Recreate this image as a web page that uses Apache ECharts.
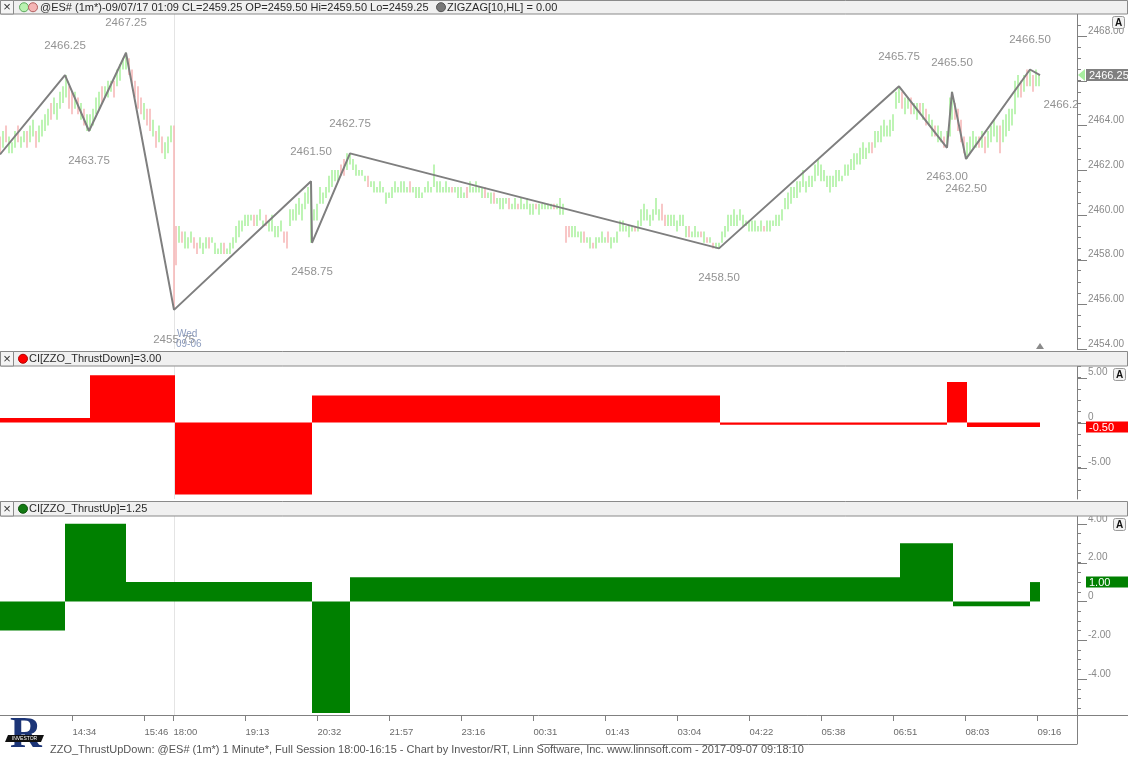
<!DOCTYPE html>
<html><head><meta charset="utf-8">
<script src="https://cdn.jsdelivr.net/npm/echarts@6.0.0/dist/echarts.min.js"></script>
<style>html,body{margin:0;padding:0;background:#fff}#c{width:1128px;height:757px}</style>
</head><body><div id="c"></div>
<script>
// ---------- DATA ----------
const tickPos = [72.5, 144.5, 173.5, 245.5, 317.5, 389.5, 461.5, 533.5, 605.5, 677.5, 749.5, 821.5, 893.5, 965.5, 1037.5];
const tickLabels = ['14:34','15:46','18:00','19:13','20:32','21:57','23:16','00:31','01:43','03:04','04:22','05:38','06:51','08:03','09:16'];

const priceMajor = [2454, 2456, 2458, 2460, 2462, 2464, 2466, 2468];
const downMajor = [-5, 0, 5];
const upMajor = [-4, -2, 0, 2, 4];

// zigzag pivots: bar position, price, label placement
const zzX = [0, 65, 89, 126, 174, 311, 312, 350, 719, 899, 947, 952, 966, 1030, 1040];
const zzP = [2462.70, 2466.25, 2463.75, 2467.25, 2455.75, 2461.50, 2458.75, 2462.75, 2458.50, 2465.75, 2463.00, 2465.50, 2462.50, 2466.50, 2466.25];
const zzPos = ['none','top','bottom','top','bottom','top','bottom','top','bottom','top','bottom','top','bottom','top','last'];

// 1-minute bars (sampled): [position, low, high, up]
const bars = [
[0,2462.75,2463.50,0],[3,2463.00,2463.75,1],[6,2463.25,2464.00,0],[9,2462.75,2463.50,1],[12,2462.75,2463.25,1],[15,2463.00,2463.75,1],[18,2463.25,2464.00,0],[21,2463.00,2463.50,1],[24,2463.25,2463.75,1],[27,2463.00,2463.75,0],
[30,2463.25,2464.00,1],[33,2463.50,2464.25,1],[36,2463.00,2463.75,0],[39,2463.25,2464.00,1],[42,2463.50,2464.25,1],
[45,2463.75,2464.50,1],[48,2464.00,2464.75,1],[51,2464.25,2465.00,0],[54,2464.50,2465.25,1],
[57,2464.25,2465.00,1],[60,2464.75,2465.50,1],[63,2465.00,2465.75,1],
[66,2465.25,2466.25,1],[69,2464.75,2465.75,0],[72,2464.50,2465.50,0],
[75,2464.75,2465.50,1],[78,2464.50,2465.25,0],[81,2464.25,2465.00,1],[84,2464.00,2464.75,0],[87,2463.75,2464.50,1],
[90,2463.75,2464.50,1],[93,2464.00,2464.75,1],
[96,2464.50,2465.25,1],[99,2464.75,2465.50,1],[102,2465.00,2465.75,0],
[105,2465.25,2465.75,1],[108,2465.25,2466.00,1],[111,2465.50,2466.00,1],[114,2465.25,2466.00,0],
[117,2465.75,2466.50,1],[120,2466.00,2466.75,1],[123,2466.50,2467.00,1],
[126,2466.50,2467.25,1],[129,2466.25,2467.00,0],
[132,2465.75,2466.50,0],[135,2465.25,2466.00,0],[138,2464.75,2465.75,0],
[141,2464.50,2465.25,0],[144,2464.25,2465.00,1],[147,2464.00,2464.75,0],
[150,2463.75,2464.75,0],[153,2463.50,2464.25,1],[156,2463.00,2463.75,0],[159,2463.25,2464.00,1],
[162,2462.75,2463.50,0],[165,2462.50,2463.25,1],[168,2462.75,2463.50,1],[171,2463.25,2464.00,1],
[174,2455.75,2464.00,0],
[176,2457.75,2459.50,0],[179,2458.75,2459.50,1],[182,2458.75,2459.25,0],[185,2458.50,2459.25,1],
[188,2458.50,2459.00,1],[191,2458.75,2459.25,1],[194,2458.50,2459.00,0],
[197,2458.25,2458.75,0],[200,2458.50,2459.00,1],[203,2458.25,2458.75,1],[206,2458.50,2459.00,1],[209,2458.50,2459.00,0],[212,2458.75,2459.00,1],
[215,2458.25,2458.75,1],[218,2458.25,2458.50,1],[221,2458.25,2458.75,1],[224,2458.25,2458.75,0],[227,2458.25,2458.50,1],[230,2458.25,2458.75,1],[233,2458.50,2459.00,1],
[236,2458.75,2459.50,1],[239,2459.00,2459.75,1],[242,2459.25,2459.75,1],
[245,2459.50,2460.00,1],[248,2459.50,2460.00,1],[251,2459.75,2460.00,1],[254,2459.50,2460.00,0],
[257,2459.50,2460.00,1],[260,2459.75,2460.25,1],[263,2459.50,2459.75,1],[266,2459.50,2460.00,0],
[269,2459.25,2459.75,1],[272,2459.25,2460.00,1],
[275,2459.00,2459.50,1],[278,2459.00,2459.50,1],[281,2459.25,2459.75,1],[284,2458.75,2459.25,0],[287,2458.50,2459.25,0],
[290,2459.50,2460.25,1],[293,2459.75,2460.25,1],
[296,2459.75,2460.50,1],[299,2460.00,2460.75,1],[302,2459.75,2460.50,1],
[305,2460.25,2461.00,1],[308,2460.50,2461.25,1],[311,2458.75,2461.50,1],
[314,2459.75,2460.25,1],[317,2459.75,2460.50,1],
[320,2460.50,2461.25,1],[323,2460.50,2461.00,1],[326,2460.75,2461.25,1],
[329,2461.00,2461.75,1],[332,2461.25,2462.00,1],
[335,2461.50,2462.00,1],[338,2461.50,2462.00,1],[341,2461.75,2462.25,0],
[344,2461.75,2462.50,0],[347,2462.00,2462.75,1],[350,2462.25,2462.75,1],[353,2462.00,2462.50,1],[356,2461.75,2462.25,1],
[359,2461.75,2462.00,1],[362,2461.75,2462.00,1],
[365,2461.50,2461.75,1],[368,2461.25,2461.75,0],[371,2461.25,2461.50,1],
[374,2461.00,2461.50,1],[377,2461.00,2461.25,1],[380,2461.00,2461.50,1],[383,2461.00,2461.25,1],
[386,2460.50,2461.00,1],[389,2460.75,2461.00,1],[392,2460.75,2461.25,1],
[395,2461.00,2461.50,1],[398,2461.00,2461.25,1],[401,2461.00,2461.50,1],[404,2461.00,2461.50,1],[407,2461.00,2461.25,1],[410,2461.00,2461.50,0],[413,2461.00,2461.25,1],
[416,2460.75,2461.25,1],[419,2460.75,2461.25,1],[422,2460.75,2461.00,1],
[425,2461.00,2461.25,1],[428,2461.00,2461.50,1],[431,2461.00,2461.25,1],
[434,2461.25,2462.25,1],[437,2461.00,2461.50,1],
[440,2461.00,2461.50,1],[443,2461.00,2461.25,1],[446,2461.00,2461.50,1],[449,2461.00,2461.25,1],[452,2461.00,2461.25,0],[455,2461.00,2461.25,1],[458,2460.75,2461.25,1],[461,2460.75,2461.25,1],[464,2460.75,2461.00,1],[467,2460.75,2461.25,0],
[470,2461.00,2461.50,1],[473,2461.00,2461.25,1],[476,2461.00,2461.50,1],[479,2461.00,2461.25,1],
[482,2460.75,2461.25,1],[485,2460.75,2461.25,0],[488,2460.75,2461.00,1],
[491,2460.50,2461.00,1],[494,2460.50,2461.00,0],[497,2460.50,2460.75,1],
[500,2460.25,2460.75,1],[503,2460.25,2460.75,1],[506,2460.50,2460.75,1],[509,2460.25,2460.75,0],[512,2460.25,2460.50,1],[515,2460.25,2460.75,1],[518,2460.25,2460.50,0],[521,2460.25,2460.75,1],[524,2460.25,2460.50,1],[527,2460.25,2460.75,1],
[530,2460.00,2460.50,1],[533,2460.00,2460.50,1],[536,2460.25,2460.50,0],[539,2460.00,2460.50,1],[542,2460.25,2460.50,1],[545,2460.25,2460.50,1],[548,2460.25,2460.50,1],[551,2460.25,2460.50,1],[554,2460.25,2460.50,0],[557,2460.25,2460.50,1],
[560,2460.00,2460.75,1],[563,2460.00,2460.50,1],[566,2458.75,2459.50,0],[569,2459.00,2459.50,0],
[572,2459.00,2459.50,1],[575,2459.00,2459.50,1],[578,2459.00,2459.25,1],
[581,2458.75,2459.25,1],[584,2458.75,2459.25,0],[587,2458.75,2459.00,1],[590,2458.50,2459.00,1],[593,2458.50,2458.75,0],[596,2458.50,2459.00,1],[599,2458.75,2459.00,1],[602,2458.75,2459.25,1],[605,2458.75,2459.00,1],[608,2458.75,2459.25,0],[611,2458.50,2459.00,1],[614,2458.75,2459.00,1],[617,2458.75,2459.25,1],
[620,2459.25,2459.75,1],[623,2459.25,2459.75,1],[626,2459.25,2459.50,1],[629,2459.00,2459.50,1],[632,2459.25,2459.50,1],[635,2459.25,2459.50,0],[638,2459.25,2459.75,1],
[641,2459.50,2460.25,1],[644,2459.75,2460.50,1],[647,2459.75,2460.25,1],[650,2459.50,2460.00,1],[653,2459.75,2460.25,1],[656,2460.00,2460.75,1],[659,2459.75,2460.25,1],[662,2459.75,2460.50,0],[665,2459.50,2460.00,0],
[668,2459.50,2460.00,1],[671,2459.50,2460.00,1],[674,2459.50,2460.00,1],[677,2459.25,2459.75,1],[680,2459.50,2460.00,1],[683,2459.50,2460.00,1],
[686,2459.00,2459.50,1],[689,2459.00,2459.50,0],[692,2459.00,2459.25,1],[695,2459.00,2459.50,1],[698,2459.00,2459.25,1],[701,2459.00,2459.25,0],[704,2458.75,2459.25,1],[707,2458.75,2459.00,0],[710,2458.75,2459.00,1],[713,2458.50,2458.75,0],[716,2458.50,2458.75,1],[719,2458.50,2458.75,1],
[722,2458.75,2459.25,1],[725,2459.00,2459.50,1],[728,2459.25,2460.00,1],[731,2459.50,2460.00,1],[734,2459.50,2460.25,1],
[737,2459.50,2460.00,1],[740,2459.75,2460.25,1],[743,2459.50,2460.00,1],[746,2459.50,2459.75,1],[749,2459.25,2459.75,1],[752,2459.25,2459.75,1],[755,2459.25,2459.75,1],[758,2459.25,2459.50,1],[761,2459.25,2459.75,1],[764,2459.25,2459.50,0],[767,2459.25,2459.75,1],[770,2459.25,2459.75,1],[773,2459.50,2459.75,1],[776,2459.50,2460.00,1],[779,2459.50,2460.00,1],[782,2459.75,2460.25,1],
[785,2460.25,2460.75,1],[788,2460.25,2461.00,1],[791,2460.50,2461.25,1],[794,2460.75,2461.25,1],[797,2460.75,2461.50,1],
[800,2461.00,2461.50,1],[803,2461.25,2462.00,1],[806,2461.00,2461.50,1],[809,2461.25,2461.75,1],[812,2461.25,2461.75,1],
[815,2461.50,2462.25,1],[818,2461.75,2462.50,1],[821,2461.50,2462.25,1],[824,2461.50,2462.00,1],[827,2461.25,2461.75,1],[830,2461.00,2461.75,1],[833,2461.25,2461.75,1],[836,2461.25,2462.00,1],[839,2461.50,2462.00,1],[842,2461.50,2461.75,1],
[845,2461.75,2462.25,1],[848,2461.75,2462.25,1],[851,2462.00,2462.50,1],[854,2462.00,2462.75,1],[857,2462.25,2462.75,1],
[860,2462.25,2463.00,1],[863,2462.50,2463.25,1],[866,2462.50,2463.00,1],[869,2462.75,2463.25,1],[872,2462.75,2463.25,0],
[875,2463.00,2463.75,1],[878,2463.25,2463.75,1],[881,2463.25,2464.00,1],[884,2463.50,2464.25,1],[887,2463.50,2464.00,1],[890,2463.50,2464.25,1],[893,2463.75,2464.50,1],
[896,2464.75,2465.50,1],[899,2465.00,2465.75,1],
[902,2464.75,2465.50,0],[905,2464.50,2465.25,1],[908,2464.75,2465.25,1],[911,2464.50,2465.25,0],[914,2464.50,2465.00,1],[917,2464.25,2465.00,1],[920,2464.50,2465.00,0],[923,2464.25,2465.00,1],[926,2464.00,2464.75,0],[929,2464.00,2464.50,1],
[932,2463.50,2464.25,1],[935,2463.50,2464.00,0],[938,2463.25,2464.00,1],[941,2463.25,2463.75,1],[944,2463.00,2463.50,0],[947,2463.00,2463.75,1],[950,2463.50,2465.25,1],[952,2464.25,2465.50,1],
[955,2464.25,2465.00,0],[958,2463.75,2464.75,0],[961,2463.25,2464.25,0],[964,2462.75,2463.50,0],
[967,2462.50,2463.25,1],
[970,2462.75,2463.50,1],[973,2463.00,2463.75,1],[976,2463.00,2463.50,1],[979,2463.00,2463.50,0],[982,2463.00,2463.75,1],[985,2462.75,2463.50,0],[988,2463.00,2463.75,1],[991,2463.25,2464.00,1],[994,2463.50,2464.25,1],[997,2463.25,2464.00,1],
[1000,2462.75,2464.00,0],[1003,2463.25,2464.25,1],[1006,2463.50,2464.50,1],[1009,2463.75,2464.75,1],[1012,2464.00,2464.75,1],
[1015,2464.50,2466.00,1],[1018,2465.25,2466.25,1],[1021,2465.25,2466.00,0],[1024,2465.50,2466.25,1],[1027,2465.75,2466.50,0],[1030,2465.75,2466.50,1],[1033,2465.50,2466.25,0],[1036,2465.75,2466.50,1],[1039,2465.75,2466.25,1]
];

// ZZO_ThrustDown steps: [from, to, value]
const downSeg = [[0,90,0.5],[90,175,5.25],[175,312,-8.0],[312,720,3.0],[720,947,-0.25],[947,967,4.5],[967,1040,-0.5]];
// ZZO_ThrustUp steps: [from, to, value]
const upSeg = [[0,65,-1.5],[65,126,4.0],[126,312,1.0],[312,350,-5.75],[350,900,1.25],[900,953,3.0],[953,1030,-0.25],[1030,1040,1.0]];

const sessionBreakX = 174;
const lastPrice = 2466.25;

// ---------- CHART ----------
const FONT = 'Liberation Sans, Arial, sans-serif';
const chart = echarts.init(document.getElementById('c'), null, {renderer:'canvas'});

function steps(a, b, s){ const r=[]; for(let v=a; v<=b+1e-9; v+=s) r.push(+v.toFixed(4)); return r; }

const grids = [
  {left:0, top:13.6, width:1077, height:335.4},
  {left:0, top:366.25, width:1077, height:132.75},
  {left:0, top:516.1, width:1077, height:198.9}
].map(g => Object.assign(g, {containLabel:false, outerBoundsMode:'none'}));

function xAx(i, show){
  return {
    type:'value', gridIndex:i, min:0, max:1077, position:'bottom',
    axisLine:{show:show, onZero:false, lineStyle:{color:'#808080'}},
    axisTick:{show:show, customValues:tickPos, length:6, lineStyle:{color:'#808080'}},
    axisLabel:{show:show, customValues:tickPos, align:'left', margin:12, fontSize:9.5, fontFamily:FONT, color:'#6a6a6a',
      formatter: v => { const k = tickPos.indexOf(v); return k>=0 ? tickLabels[k] : ''; }},
    splitLine:{show:false}
  };
}
function yAx(i, min, max, minor, major, fmt){
  return {
    type:'value', gridIndex:i, min:min, max:max, position:'right',
    axisLine:{show:true, onZero:false, lineStyle:{color:'#808080'}},
    axisTick:{show:true, customValues:minor, length:4, lineStyle:{color:'#808080'}},
    axisLabel:{show:true, customValues:major, align:'left', verticalAlign:'bottom', margin:11, fontSize:10, fontFamily:FONT, color:'#8a8a8a', formatter:fmt},
    splitLine:{show:false}
  };
}
const fmt2 = v => v===0 ? '0' : v.toFixed(2);

function renderBar(params, api){
  const x=api.value(0), lo=api.value(1), hi=api.value(2), up=api.value(3);
  const a=api.coord([x,hi]), b=api.coord([x,lo]);
  return {type:'rect', shape:{x:a[0]-0.8, y:a[1], width:1.6, height:Math.max(1.5,b[1]-a[1])},
    style:{fill: up ? '#aef2a2' : '#f7b9b9'}};
}
function stepRender(color){
  return function(params, api){
    const x0=api.value(0), x1=api.value(1), v=api.value(2);
    const a=api.coord([x0,v]), b=api.coord([x1,0]);
    return {type:'rect', shape:{x:a[0], y:Math.min(a[1],b[1]), width:b[0]-a[0], height:Math.max(1,Math.abs(b[1]-a[1]))}, style:{fill:color}};
  };
}
function breakRender(params, api){
  const x = api.coord([api.value(0), 0])[0];
  const cs = params.coordSys;
  return {type:'line', shape:{x1:Math.round(x)+0.5, y1:cs.y, x2:Math.round(x)+0.5, y2:cs.y+cs.height}, style:{stroke:'#e4e4e4', lineWidth:1}};
}
// long (major) ticks on the right-hand value axis
function majorTickRender(params, api){
  const y = Math.round(api.coord([0, api.value(1)])[1]) + 0.5;
  const cs = params.coordSys;
  const x0 = cs.x + cs.width;
  return {type:'line', shape:{x1:x0, y1:y, x2:x0+10, y2:y}, style:{stroke:'#808080', lineWidth:1}};
}

const zzLine = zzX.map((x,i)=>[x, zzP[i]]);
const zzLabels = zzX.map((x,i)=>{
  const pos = zzPos[i];
  if (pos==='none') return null;
  const lab = {show:true, formatter: zzP[i].toFixed(2), color:'#777', fontSize:11.5, fontFamily:FONT};
  if (pos==='top') Object.assign(lab, {position:'top', distance:23});
  else if (pos==='bottom') Object.assign(lab, {position:'bottom', distance:23});
  else Object.assign(lab, {position:'bottom', distance:23, offset:[21,0], width:38, overflow:'truncate', ellipsis:'', align:'center'});
  return {value:[x, zzP[i]], label:lab};
}).filter(Boolean);

const option = {
  animation:false,
  backgroundColor:'#ffffff',
  grid: grids,
  xAxis: [xAx(0,false), xAx(1,false), xAx(2,true)],
  yAxis: [
    yAx(0, 2454, 2469, steps(2454, 2468.5, 0.5), priceMajor, v=>v.toFixed(2)),
    yAx(1, -8.5, 6.25, steps(-7.5, 6.25, 1.25), downMajor, fmt2),
    yAx(2, -5.85, 4.4, steps(-5.5, 4.0, 0.5), upMajor, fmt2)
  ],
  series: [
    {type:'custom', xAxisIndex:0, yAxisIndex:0, data:[[sessionBreakX]], renderItem:breakRender, silent:true, z:1},
    {type:'custom', xAxisIndex:1, yAxisIndex:1, data:[[sessionBreakX]], renderItem:breakRender, silent:true, z:1},
    {type:'custom', xAxisIndex:2, yAxisIndex:2, data:[[sessionBreakX]], renderItem:breakRender, silent:true, z:1},
    {type:'custom', xAxisIndex:0, yAxisIndex:0, data:priceMajor.map(v=>[0,v]), renderItem:majorTickRender, clip:false, silent:true, z:5},
    {type:'custom', xAxisIndex:1, yAxisIndex:1, data:downMajor.map(v=>[0,v]), renderItem:majorTickRender, clip:false, silent:true, z:5},
    {type:'custom', xAxisIndex:2, yAxisIndex:2, data:upMajor.map(v=>[0,v]), renderItem:majorTickRender, clip:false, silent:true, z:5},
    {type:'custom', name:'bars', xAxisIndex:0, yAxisIndex:0, data:bars, renderItem:renderBar, clip:true, encode:{x:0, y:[1,2]}, z:2},
    {type:'line', name:'ZIGZAG', xAxisIndex:0, yAxisIndex:0, data:zzLine, symbol:'none', lineStyle:{color:'#7f7f7f', width:2}, z:3, clip:true},
    {type:'scatter', xAxisIndex:0, yAxisIndex:0, data:zzLabels, symbolSize:1, itemStyle:{color:'rgba(0,0,0,0)'}, z:4, silent:true},
    {type:'custom', name:'ThrustDown', xAxisIndex:1, yAxisIndex:1, data:downSeg, renderItem:stepRender('#ff0000'), encode:{x:[0,1], y:2}, z:2},
    {type:'custom', name:'ThrustUp', xAxisIndex:2, yAxisIndex:2, data:upSeg, renderItem:stepRender('#008000'), encode:{x:[0,1], y:2}, z:2}
  ]
};
chart.setOption(option);

// ---------- decorations ----------
function header(y0, h, circles, texts){
  const els = [
    {type:'rect', shape:{x:0.5, y:y0+0.5, width:1127, height:h}, style:{fill:'#f0f0f0', stroke:'#8a8a8a', lineWidth:1}, z:10},
    {type:'rect', shape:{x:0.5, y:y0+0.5, width:13, height:h}, style:{fill:'#f4f4f4', stroke:'#8a8a8a', lineWidth:1}, z:11},
    {type:'text', x:7, y:y0+h/2+1, style:{text:'×', fill:'#333', fontSize:13, fontFamily:FONT, align:'center', verticalAlign:'middle'}, z:12}
  ];
  circles.forEach(c => els.push({type:'circle', shape:{cx:c.x, cy:y0+h/2+0.5, r:4.5}, style:{fill:c.fill, stroke:c.stroke, lineWidth:1}, z:12}));
  texts.forEach(t => els.push({type:'text', x:t.x, y:y0+h/2+1, style:{text:t.text, fill:'#2a2a2a', fontSize:11, fontFamily:FONT, verticalAlign:'middle'}, z:12}));
  return els;
}
function aButton(x, y){
  return [
    {type:'rect', shape:{x:x+0.5, y:y+0.5, width:12, height:12, r:2}, style:{fill:'#f2f2f2', stroke:'#9a9a9a', lineWidth:1}, z:12},
    {type:'text', x:x+6.5, y:y+7, style:{text:'A', fill:'#111', fontSize:10, fontWeight:'bold', fontFamily:FONT, align:'center', verticalAlign:'middle'}, z:13}
  ];
}
function tag(y, text, fill, h){
  return [
    {type:'rect', shape:{x:1086, y:y-h/2, width:42, height:h}, style:{fill:fill}, z:12},
    {type:'text', x:1089, y:y+0.5, style:{text:text, fill:'#fff', fontSize:11, fontFamily:FONT, verticalAlign:'middle'}, z:13}
  ];
}

const yPrice = chart.convertToPixel({yAxisIndex:0}, lastPrice);
const yDown = chart.convertToPixel({yAxisIndex:1}, downSeg[downSeg.length-1][2]);
const yUp = chart.convertToPixel({yAxisIndex:2}, upSeg[upSeg.length-1][2]);
const xLast = chart.convertToPixel({xAxisIndex:0}, zzX[zzX.length-1]);

const els = [].concat(
  header(0, 13.5, [{x:24, fill:'#b9f2b0', stroke:'#5fa85f'}, {x:33, fill:'#f5b5b5', stroke:'#b06060'}],
    [{x:40, text:'@ES# (1m*)-09/07/17 01:09 CL=2459.25 OP=2459.50 Hi=2459.50 Lo=2459.25'}]),
  header(351, 14.5, [{x:23, fill:'#ff0000', stroke:'#b00000'}], [{x:29, text:'CI[ZZO_ThrustDown]=3.00'}]),
  header(501, 14.5, [{x:23, fill:'#127a12', stroke:'#0a500a'}], [{x:29, text:'CI[ZZO_ThrustUp]=1.25'}]),
  [
    {type:'circle', shape:{cx:441, cy:7.2, r:4.5}, style:{fill:'#777', stroke:'#555'}, z:12},
    {type:'text', x:447, y:7.8, style:{text:'ZIGZAG[10,HL] = 0.00', fill:'#2a2a2a', fontSize:11, fontFamily:FONT, verticalAlign:'middle'}, z:12}
  ],
  aButton(1112, 16), aButton(1113, 368), aButton(1113, 518),
  tag(yPrice, lastPrice.toFixed(2), '#808080', 12),
  tag(yDown, downSeg[downSeg.length-1][2].toFixed(2), '#ff0000', 11),
  tag(yUp, upSeg[upSeg.length-1][2].toFixed(2), '#008000', 11),
  [
    {type:'polygon', shape:{points:[[1078,yPrice],[1085,yPrice-6],[1085,yPrice+6]]}, style:{fill:'#a8eea0'}, z:12},
    {type:'polygon', shape:{points:[[xLast,343],[xLast-4,349],[xLast+4,349]]}, style:{fill:'#8a8a8a'}, z:12},
    {type:'text', x:177, y:334, style:{text:'Wed', fill:'#8b9bbd', fontSize:10, fontFamily:FONT, verticalAlign:'middle'}, z:6},
    {type:'text', x:176, y:344, style:{text:'09-06', fill:'#8b9bbd', fontSize:10, fontFamily:FONT, verticalAlign:'middle'}, z:6},
    // time-axis frame
    {type:'line', shape:{x1:1077, y1:715.5, x2:1128, y2:715.5}, style:{stroke:'#808080', lineWidth:1}, z:10},
    {type:'line', shape:{x1:1077.5, y1:715, x2:1077.5, y2:744}, style:{stroke:'#808080', lineWidth:1}, z:10},
    {type:'line', shape:{x1:540, y1:744.5, x2:1077.5, y2:744.5}, style:{stroke:'#808080', lineWidth:1}, z:10},
    // footer
    {type:'text', x:50, y:750, style:{text:'ZZO_ThrustUpDown: @ES# (1m*) 1 Minute*, Full Session 18:00-16:15 - Chart by Investor/RT, Linn Software, Inc. www.linnsoft.com - 2017-09-07 09:18:10', fill:'#555', fontSize:11, fontFamily:FONT, verticalAlign:'middle'}, z:12},
    // logo
    {type:'text', x:10, y:736, style:{text:'R', fill:'#1c3577', fontSize:44, fontWeight:'bold', fontFamily:'Liberation Serif, DejaVu Serif, serif', verticalAlign:'middle'}, z:12},
    {type:'polygon', shape:{points:[[8,735],[44,735],[41,742],[5,742]]}, style:{fill:'#111'}, z:13},
    {type:'text', x:24.5, y:738.7, style:{text:'INVESTOR', fill:'#fff', fontSize:5, fontFamily:FONT, align:'center', verticalAlign:'middle'}, z:14}
  ]
);
chart.setOption({graphic:{elements:els}});
</script>
</body></html>
